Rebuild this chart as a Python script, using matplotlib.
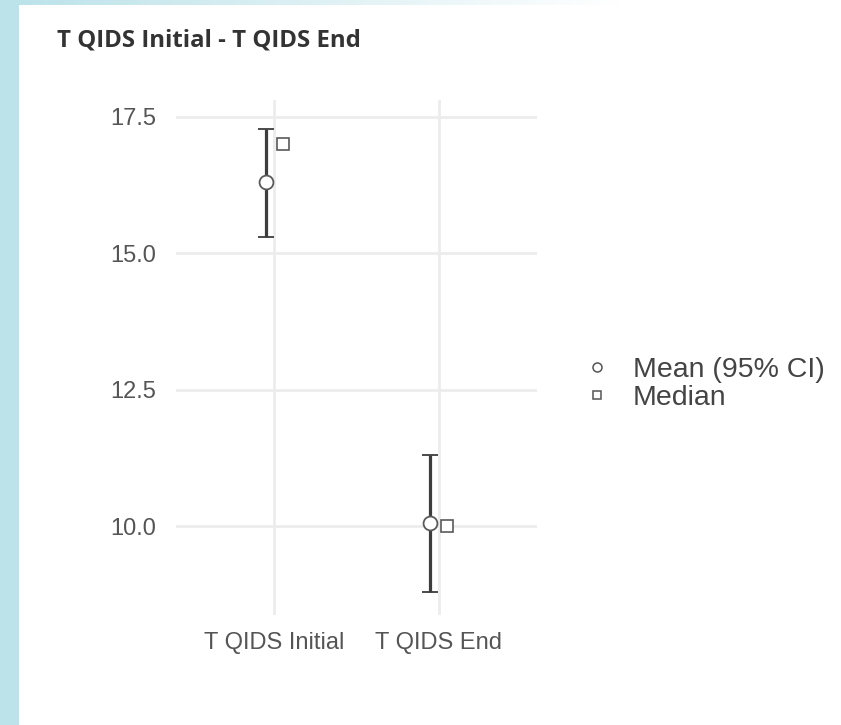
import matplotlib.pyplot as plt
import numpy as np
from matplotlib.lines import Line2D

# values
categories = ["T QIDS Initial", "T QIDS End"]
means = [16.3, 10.05]
ci_low = [15.3, 8.8]
ci_high = [17.28, 11.3]
medians = [17.0, 10.0]
y_ticks = [10.0, 12.5, 15.0, 17.5]
title = "T QIDS Initial - T QIDS End"

plt.rcParams["font.family"] = ["Liberation Sans", "DejaVu Sans"]

fig = plt.figure(figsize=(8.41, 7.25), dpi=100)
fig.patch.set_facecolor("white")

# light blue frame on the left and a fading strip along the top
bg = fig.add_axes([0, 0, 1, 1], zorder=-10)
bg.set_axis_off()
bg.set_xlim(0, 841)
bg.set_ylim(725, 0)
bg.axvspan(0, 19, color="#bde3ea", lw=0)
grad = np.linspace(0, 1, 256)[None, :]
bg.imshow(np.dstack([
    0.741 + (1 - 0.741) * grad,
    0.890 + (1 - 0.890) * grad,
    0.918 + (1 - 0.918) * grad,
]), extent=(19, 620, 5, 0), aspect="auto")

ax = fig.add_axes([176 / 841, 1 - 615 / 725, (537 - 176) / 841, (615 - 100) / 725])
ax.set_facecolor("none")

x = np.arange(1, len(categories) + 1)
dodge = 0.05
err = [np.array(means) - np.array(ci_low), np.array(ci_high) - np.array(means)]
ax.errorbar(x - dodge, means, yerr=err, fmt="o", color="#3d3d3d", ecolor="#3d3d3d",
            elinewidth=2.3, capsize=5.8, capthick=2.3, markersize=10,
            markerfacecolor="white", markeredgecolor="#5a5a5a", markeredgewidth=1.3,
            zorder=3)
ax.plot(x + dodge, medians, "s", markersize=8, markerfacecolor="white",
        markeredgecolor="#5a5a5a", markeredgewidth=1.2, linestyle="none", zorder=3)

ax.set_xlim(0.4, 2.6)
ax.set_ylim(8.37, 17.81)
ax.set_xticks(x)
ax.set_xticklabels(categories)
ax.set_yticks(y_ticks)
ax.set_yticklabels([f"{v:.1f}" for v in y_ticks])
ax.tick_params(length=0, labelsize=17, labelcolor="#555555")
ax.tick_params(axis="y", pad=14)
ax.tick_params(axis="x", pad=12.5)
ax.grid(True, color="#ececec", linewidth=2)
ax.set_axisbelow(True)
for s in ax.spines.values():
    s.set_visible(False)

handles = [
    Line2D([], [], marker="o", linestyle="none", markersize=6.5, markerfacecolor="white",
           markeredgecolor="#555555", markeredgewidth=1.1),
    Line2D([], [], marker="s", linestyle="none", markersize=6, markerfacecolor="white",
           markeredgecolor="#555555", markeredgewidth=1.1),
]
fig.legend(handles, ["Mean (95% CI)", "Median"], loc="center left",
           bbox_to_anchor=(583 / 841, 1 - 384 / 725), frameon=False,
           fontsize=20.5, labelcolor="#444444", handlelength=1.0,
           handletextpad=0.75, labelspacing=0.1, borderpad=0, borderaxespad=0)

fig.text(57 / 841, 1 - 40 / 725, title, fontsize=17.3, fontweight="bold",
         color="#333333", va="center", ha="left", family=["Open Sans", "DejaVu Sans"])

fig.savefig("out.png", dpi=100)
